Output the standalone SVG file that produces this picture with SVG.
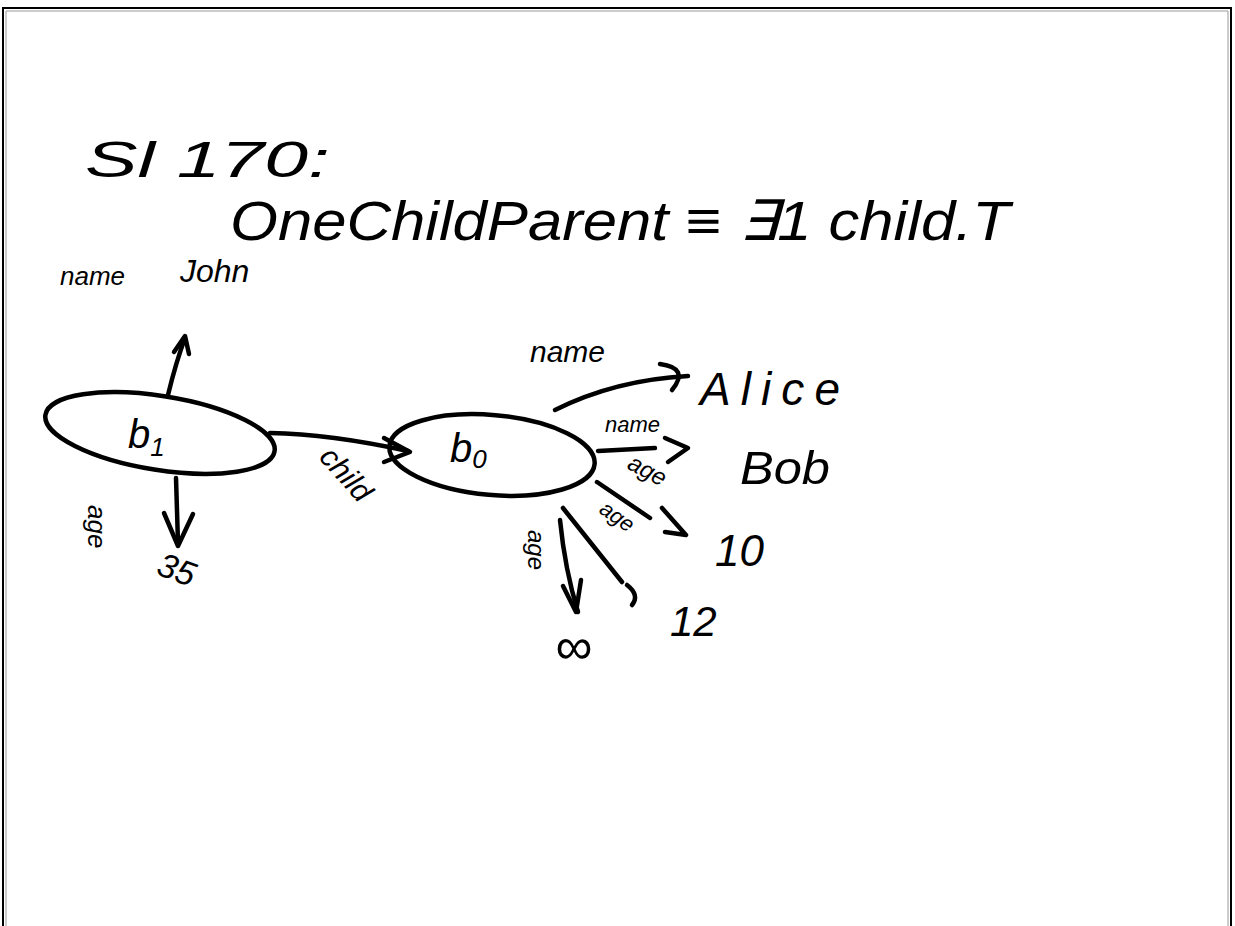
<svg xmlns="http://www.w3.org/2000/svg" width="1235" height="926" viewBox="0 0 1235 926">
<style>
.ink{fill:none;stroke:#000;stroke-width:4.5;stroke-linecap:round;stroke-linejoin:round}
.t{font-family:"Liberation Sans",Arial,sans-serif;font-style:italic;fill:#000}
.lbl{font-size:26px}
.big{font-size:46px}
</style>
<rect x="0" y="0" width="1235" height="926" fill="#fff"/>
<g id="frame">
<path d="M3,926 L3,8 L1231,8 L1231,926" fill="none" stroke="#000" stroke-width="2"/>
<path d="M6,926 L6,11 L1228,11 L1228,926" fill="none" stroke="#999" stroke-width="1"/>
</g>
<g id="title">
<text class="t" x="85" y="177" font-size="50" textLength="245" lengthAdjust="spacingAndGlyphs">Sl 170:</text>
<text class="t" x="230" y="240" font-size="56" textLength="780" lengthAdjust="spacingAndGlyphs">OneChildParent ≡ ∃1 child.T</text>
</g>
<g id="node-b1">
<ellipse class="ink" cx="160" cy="433" rx="116" ry="37" transform="rotate(9 160 433)"/>
<text class="t" x="128" y="448" font-size="40">b<tspan font-size="26" dy="8">1</tspan></text>
</g>
<g id="node-b0">
<ellipse class="ink" cx="492" cy="455" rx="103" ry="40" transform="rotate(5 492 455)"/>
<text class="t" x="450" y="462" font-size="40">b<tspan font-size="26" dy="6">0</tspan></text>
</g>
<g id="node-john"><text class="t" x="180" y="282" font-size="32">John</text></g>
<g id="node-35"><text class="t" x="0" y="0" font-size="34" transform="translate(155,574) rotate(20)">35</text></g>
<g id="node-alice"><text class="t big" x="700" y="405" textLength="140" lengthAdjust="spacing">Alice</text></g>
<g id="node-bob"><text class="t big" x="740" y="484" textLength="90" lengthAdjust="spacingAndGlyphs">Bob</text></g>
<g id="node-10"><text class="t" x="715" y="566" font-size="44">10</text></g>
<g id="node-12"><text class="t" x="670" y="636" font-size="42">12</text></g>
<g id="node-inf"><text class="t" x="555" y="664" font-size="52">∞</text></g>
<g id="connectors">
<path class="ink" d="M168,395 Q176,362 185,338"/>
<path class="ink" d="M174,352 L185,336 L189,354"/>
<text class="t lbl" x="60" y="285" font-size="30">name</text>
<path class="ink" d="M176,478 L178,543"/>
<path class="ink" d="M164,513 L178,546 L193,514"/>
<text class="t lbl" x="0" y="0" transform="translate(88,505) rotate(90)">age</text>
<path class="ink" d="M270,433 Q330,434 408,451"/>
<path class="ink" d="M384,438 L410,452 L384,462"/>
<text class="t" x="0" y="0" font-size="30" transform="translate(318,458) rotate(48)">child</text>
<path class="ink" d="M555,410 Q615,380 688,376"/>
<path class="ink" d="M660,364 Q690,368 672,390"/>
<text class="t" x="530" y="362" font-size="30">name</text>
<path class="ink" d="M598,451 L655,448"/>
<path class="ink" d="M665,438 L688,448 L668,462"/>
<text class="t" x="605" y="432" font-size="22">name</text>
<path class="ink" d="M597,482 L650,518"/>
<path class="ink" d="M662,508 L686,535 L665,532"/>
<text class="t" x="0" y="0" font-size="24" transform="translate(626,468) rotate(28)">age</text>
<path class="ink" d="M563,508 L622,582"/>
<path class="ink" d="M627,585 Q640,595 632,605"/>
<text class="t" x="0" y="0" font-size="22" transform="translate(598,512) rotate(35)">age</text>
<path class="ink" d="M560,520 Q565,570 578,612"/>
<path class="ink" d="M563,586 L576,612 L581,580"/>
<text class="t" x="0" y="0" font-size="24" transform="translate(528,530) rotate(90)">age</text>
</g>
</svg>
